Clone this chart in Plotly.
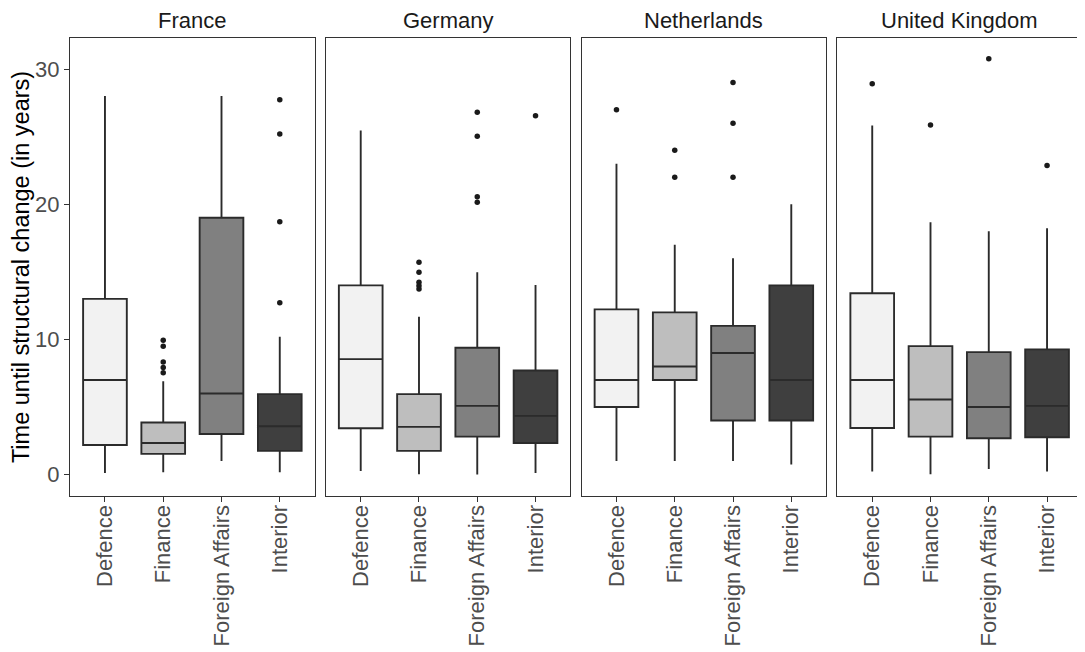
import plotly.graph_objects as go
from plotly.subplots import make_subplots

countries = ["France", "Germany", "Netherlands", "United Kingdom"]
ministries = ["Defence", "Finance", "Foreign Affairs", "Interior"]
fill_colors = ["#F2F2F2", "#BEBEBE", "#808080", "#3F3F3F"]

# Box statistics per country (rows) and ministry (columns)
lower_whisker = [
    [0.12, 0.17, 1.0, 0.17],
    [0.27, 0.02, 0.0, 0.12],
    [1.0, 1.0, 1.0, 0.75],
    [0.22, 0.02, 0.42, 0.22],
]
q1 = [
    [2.19, 1.53, 3.0, 1.75],
    [3.43, 1.75, 2.81, 2.34],
    [5.0, 7.0, 4.0, 4.0],
    [3.45, 2.81, 2.69, 2.76],
]
median = [
    [7.0, 2.34, 6.0, 3.58],
    [8.54, 3.53, 5.08, 4.34],
    [7.0, 8.0, 9.0, 7.0],
    [7.0, 5.55, 5.0, 5.08],
]
q3 = [
    [13.0, 3.85, 19.0, 5.95],
    [14.0, 5.95, 9.38, 7.70],
    [12.22, 12.0, 11.0, 14.0],
    [13.41, 9.5, 9.06, 9.26],
]
upper_whisker = [
    [28.0, 6.91, 28.0, 10.2],
    [25.45, 11.68, 14.96, 14.02],
    [23.0, 17.0, 16.0, 20.0],
    [25.82, 18.67, 18.0, 18.22],
]
outliers = [
    [[], [9.93, 9.5, 8.32, 7.92, 7.53], [], [27.73, 25.2, 18.71, 12.71]],
    [[], [15.7, 14.96, 14.22, 13.97, 13.73], [26.81, 25.03, 20.56, 20.14], [26.54]],
    [[27.0], [24.0, 22.0], [29.0, 26.0, 22.0], []],
    [[28.91], [25.87], [30.76], [22.86]],
]
y_ticks = [0, 10, 20, 30]

FONT = "Liberation Sans, Arial, sans-serif"
FS = 22

fig = make_subplots(rows=1, cols=4, shared_yaxes=True,
                    horizontal_spacing=0.0109,
                    subplot_titles=countries)

for ci, country in enumerate(countries):
    col = ci + 1
    for mi, m in enumerate(ministries):
        fig.add_trace(go.Box(
            x=[m], q1=[q1[ci][mi]], median=[median[ci][mi]], q3=[q3[ci][mi]],
            lowerfence=[lower_whisker[ci][mi]], upperfence=[upper_whisker[ci][mi]],
            fillcolor=fill_colors[mi], line=dict(color="#2B2B2B", width=1.9),
            width=0.75, whiskerwidth=0, boxpoints=False, showlegend=False,
            hoverinfo="skip"), row=1, col=col)
        if outliers[ci][mi]:
            fig.add_trace(go.Scatter(
                x=[m] * len(outliers[ci][mi]), y=outliers[ci][mi], mode="markers",
                marker=dict(color="#1a1a1a", size=5.5), showlegend=False,
                hoverinfo="skip"), row=1, col=col)

for ci in range(4):
    col = ci + 1
    fig.update_xaxes(row=1, col=col, type="category", automargin=False,
                     categoryorder="array", categoryarray=ministries,
                     range=[-0.6, 3.6], showline=True, mirror=True,
                     linecolor="#333333", linewidth=1.3, showgrid=False,
                     zeroline=False, ticks="outside", ticklen=5,
                     tickcolor="#333333", tickwidth=1.3, tickangle=-90,
                     ticklabelstandoff=-6,
                     tickfont=dict(family=FONT, size=FS, color="#4D4D4D"))
    fig.update_yaxes(row=1, col=col, range=[-1.585, 32.3], showline=True,
                     automargin=False,
                     mirror=True, linecolor="#333333", linewidth=1.3,
                     showgrid=False, zeroline=False,
                     ticks="outside" if ci == 0 else "", ticklen=5,
                     tickcolor="#333333", tickwidth=1.3,
                     tickvals=y_ticks, showticklabels=(ci == 0),
                     tickfont=dict(family=FONT, size=FS, color="#4D4D4D"))

fig.update_yaxes(row=1, col=1,
                 title=dict(text="Time until structural change (in years)",
                            font=dict(family=FONT, size=23.5, color="#000000"),
                            standoff=3))

for ann in fig.layout.annotations:
    ann.font = dict(family=FONT, size=FS, color="#1A1A1A")
    ann.yshift = 3

fig.update_layout(width=1077, height=644, plot_bgcolor="white",
                  paper_bgcolor="white",
                  margin=dict(l=62, r=3, t=30, b=156),
                  font=dict(family=FONT, size=FS))

fig.write_html("out.html")
